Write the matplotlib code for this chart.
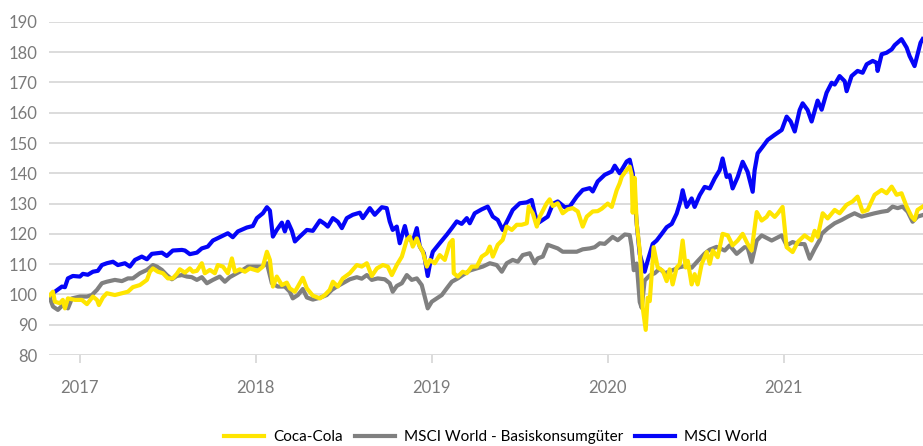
import matplotlib
matplotlib.use("Agg")
import matplotlib.pyplot as plt

# ---------- data (decimal years, indexed values) ----------
coca_t = [2016.830, 2016.847, 2016.858, 2016.886, 2016.903, 2016.915, 2016.932, 2016.972,
          2017.011, 2017.040, 2017.074, 2017.097, 2017.108, 2017.131, 2017.153, 2017.199,
          2017.239, 2017.273, 2017.301, 2017.341, 2017.381, 2017.398, 2017.415, 2017.443,
          2017.472, 2017.500, 2017.528, 2017.551, 2017.568, 2017.597, 2017.625, 2017.642,
          2017.665, 2017.693, 2017.710, 2017.739, 2017.767, 2017.784, 2017.813, 2017.841,
          2017.864, 2017.881, 2017.909, 2017.938, 2017.966, 2017.994, 2018.011, 2018.040,
          2018.063, 2018.080, 2018.097, 2018.119, 2018.148, 2018.176, 2018.193, 2018.222,
          2018.239, 2018.267, 2018.290, 2018.324, 2018.364, 2018.392, 2018.420, 2018.438,
          2018.466, 2018.494, 2018.534, 2018.574, 2018.602, 2018.631, 2018.659, 2018.688,
          2018.722, 2018.750, 2018.773, 2018.801, 2018.830, 2018.858, 2018.875, 2018.892,
          2018.915, 2018.932, 2018.949, 2018.972, 2018.989, 2019.017, 2019.045, 2019.074,
          2019.102, 2019.119, 2019.125, 2019.148, 2019.176, 2019.199, 2019.227, 2019.256,
          2019.284, 2019.313, 2019.330, 2019.347, 2019.375, 2019.403, 2019.426, 2019.455,
          2019.483, 2019.511, 2019.540, 2019.551, 2019.574, 2019.597, 2019.614, 2019.653,
          2019.670, 2019.688, 2019.716, 2019.744, 2019.773, 2019.801, 2019.830, 2019.858,
          2019.881, 2019.915, 2019.943, 2019.966, 2020.000, 2020.023, 2020.051, 2020.068,
          2020.080, 2020.108, 2020.125, 2020.136, 2020.142, 2020.153, 2020.165, 2020.182,
          2020.193, 2020.199, 2020.216, 2020.227, 2020.239, 2020.261, 2020.284, 2020.313,
          2020.335, 2020.352, 2020.369, 2020.392, 2020.409, 2020.426, 2020.443, 2020.455,
          2020.477, 2020.494, 2020.511, 2020.534, 2020.563, 2020.580, 2020.597, 2020.625,
          2020.653, 2020.682, 2020.710, 2020.739, 2020.767, 2020.795, 2020.818, 2020.847,
          2020.875, 2020.903, 2020.920, 2020.949, 2020.966, 2020.994, 2021.017, 2021.051,
          2021.080, 2021.119, 2021.159, 2021.176, 2021.193, 2021.222, 2021.250, 2021.290,
          2021.318, 2021.358, 2021.392, 2021.420, 2021.449, 2021.477, 2021.517, 2021.557,
          2021.585, 2021.614, 2021.642, 2021.670, 2021.699, 2021.727, 2021.744, 2021.761,
          2021.790]
coca_v = [99.8, 100.9, 97.6, 97.1, 98.2, 95.4, 98.7, 98.2,
          98.2, 96.8, 99.3, 98.2, 96.5, 99.0, 100.4, 99.8,
          100.4, 100.9, 102.4, 103.1, 104.8, 107.5, 108.6, 107.5,
          107.0, 105.3, 105.3, 106.8, 108.3, 107.2, 108.6, 107.5,
          107.8, 110.3, 107.0, 108.1, 107.0, 109.7, 109.2, 107.0,
          111.9, 107.5, 108.3, 107.5, 108.6, 108.1, 107.8, 109.2,
          114.1, 111.4, 102.6, 105.9, 103.1, 103.9, 102.0, 100.9,
          102.6, 105.5, 102.0, 99.6, 98.7, 99.8, 101.5, 104.2,
          102.6, 105.3, 107.0, 109.7, 109.2, 110.3, 106.1, 108.6,
          109.7, 109.2, 106.4, 109.7, 112.5, 118.0, 119.1, 115.8,
          118.5, 115.8, 114.1, 109.2, 111.4, 110.3, 113.0, 111.4,
          116.9, 118.0, 107.0, 105.9, 107.5, 107.0, 109.2, 109.2,
          112.5, 113.6, 115.8, 112.5, 116.4, 118.0, 122.4, 121.3,
          123.0, 123.0, 123.5, 129.0, 126.8, 122.4, 125.7, 130.1,
          131.4, 129.2, 130.1, 126.8, 128.1, 128.5, 127.4, 122.4,
          125.7, 127.4, 127.5, 128.3, 130.0, 128.9, 134.4, 136.7,
          138.9, 141.1, 142.2, 139.5, 127.0, 138.5, 123.3, 114.4,
          104.4, 95.6, 88.3, 98.9, 97.8, 115.6, 108.9, 107.8,
          104.4, 108.3, 103.3, 108.9, 110.0, 117.8, 108.9, 111.1,
          103.3, 106.7, 103.3, 110.0, 114.0, 110.1, 114.5, 112.3,
          120.0, 119.5, 116.2, 117.8, 120.0, 116.7, 114.5, 127.2,
          124.4, 125.6, 127.2, 125.6, 126.7, 128.9, 115.6, 114.0,
          117.3, 119.5, 117.8, 121.0, 119.0, 126.8, 125.1, 127.9,
          126.8, 129.6, 130.7, 132.3, 127.3, 127.9, 132.9, 134.5,
          133.4, 135.6, 132.9, 133.4, 129.0, 125.7, 124.6, 127.9,
          129.0]

staples_t = [2016.830, 2016.847, 2016.875, 2016.903, 2016.932, 2016.955, 2017.000, 2017.040,
             2017.068, 2017.097, 2017.125, 2017.153, 2017.199, 2017.239, 2017.273, 2017.301,
             2017.341, 2017.381, 2017.415, 2017.438, 2017.466, 2017.494, 2017.523, 2017.551,
             2017.580, 2017.608, 2017.636, 2017.665, 2017.693, 2017.722, 2017.756, 2017.795,
             2017.824, 2017.852, 2017.892, 2017.926, 2017.955, 2017.994, 2018.034, 2018.063,
             2018.091, 2018.125, 2018.165, 2018.193, 2018.210, 2018.239, 2018.267, 2018.290,
             2018.324, 2018.364, 2018.403, 2018.432, 2018.460, 2018.494, 2018.534, 2018.574,
             2018.602, 2018.631, 2018.659, 2018.693, 2018.733, 2018.761, 2018.778, 2018.801,
             2018.830, 2018.858, 2018.886, 2018.915, 2018.943, 2018.960, 2018.977, 2019.000,
             2019.028, 2019.057, 2019.085, 2019.114, 2019.148, 2019.176, 2019.216, 2019.256,
             2019.290, 2019.330, 2019.369, 2019.398, 2019.426, 2019.460, 2019.489, 2019.517,
             2019.557, 2019.585, 2019.602, 2019.631, 2019.659, 2019.688, 2019.716, 2019.744,
             2019.784, 2019.824, 2019.858, 2019.898, 2019.926, 2019.955, 2019.983, 2020.028,
             2020.057, 2020.097, 2020.125, 2020.136, 2020.148, 2020.165, 2020.182, 2020.193,
             2020.210, 2020.239, 2020.267, 2020.295, 2020.324, 2020.369, 2020.409, 2020.449,
             2020.477, 2020.511, 2020.551, 2020.580, 2020.619, 2020.665, 2020.693, 2020.733,
             2020.778, 2020.795, 2020.818, 2020.847, 2020.875, 2020.932, 2020.989, 2021.017,
             2021.051, 2021.080, 2021.119, 2021.148, 2021.176, 2021.205, 2021.216, 2021.250,
             2021.290, 2021.330, 2021.364, 2021.403, 2021.443, 2021.477, 2021.517, 2021.557,
             2021.591, 2021.619, 2021.648, 2021.676, 2021.705, 2021.733, 2021.761, 2021.790]
staples_v = [98.7, 96.0, 94.9, 96.5, 95.4, 98.7, 99.3, 99.3,
             99.8, 101.5, 103.7, 104.2, 104.8, 104.4, 105.3, 105.3,
             107.0, 108.1, 109.7, 109.2, 108.1, 106.4, 105.0, 106.1,
             106.4, 105.9, 105.7, 104.8, 105.7, 103.7, 104.8, 105.9,
             104.2, 105.7, 107.0, 108.1, 109.2, 109.2, 109.2, 110.3,
             103.7, 102.6, 102.6, 100.9, 98.7, 99.8, 101.8, 99.0,
             98.3, 98.9, 99.8, 101.5, 102.6, 103.7, 105.0, 105.7,
             105.2, 106.4, 104.8, 105.3, 105.0, 103.7, 100.9, 102.8,
             103.7, 106.4, 104.8, 105.3, 103.1, 99.3, 95.4, 97.6,
             98.7, 99.8, 102.0, 104.2, 105.3, 106.4, 107.9, 108.6,
             109.2, 110.3, 109.7, 107.5, 110.3, 111.4, 110.8, 113.0,
             113.6, 110.3, 111.9, 112.5, 116.4, 115.8, 115.2, 114.1,
             114.1, 114.1, 114.9, 115.2, 115.6, 116.9, 116.7, 119.0,
             117.9, 119.8, 119.6, 115.7, 108.0, 110.2, 97.5, 95.6,
             104.6, 106.3, 107.0, 108.5, 107.0, 108.0, 109.0, 109.5,
             108.8, 111.0, 113.5, 114.8, 115.7, 114.5, 116.2, 113.4,
             115.6, 115.5, 110.7, 117.8, 119.5, 117.8, 119.5, 116.2,
             117.3, 116.7, 116.6, 111.8, 115.0, 118.0, 120.0, 121.8,
             123.5, 124.6, 125.7, 126.8, 125.7, 126.2, 126.8, 127.3,
             127.6, 129.0, 128.5, 129.0, 127.3, 124.0, 125.7, 126.2]

world_t = [2016.830, 2016.858, 2016.898, 2016.915, 2016.932, 2016.960, 2017.000, 2017.017,
           2017.045, 2017.074, 2017.102, 2017.125, 2017.153, 2017.188, 2017.216, 2017.256,
           2017.284, 2017.313, 2017.352, 2017.381, 2017.409, 2017.438, 2017.466, 2017.494,
           2017.528, 2017.580, 2017.597, 2017.625, 2017.665, 2017.693, 2017.727, 2017.756,
           2017.795, 2017.841, 2017.869, 2017.898, 2017.949, 2017.983, 2018.006, 2018.040,
           2018.063, 2018.080, 2018.097, 2018.119, 2018.148, 2018.165, 2018.182, 2018.205,
           2018.222, 2018.250, 2018.290, 2018.324, 2018.364, 2018.392, 2018.409, 2018.438,
           2018.466, 2018.489, 2018.517, 2018.551, 2018.591, 2018.608, 2018.648, 2018.676,
           2018.716, 2018.744, 2018.761, 2018.778, 2018.801, 2018.818, 2018.847, 2018.864,
           2018.892, 2018.915, 2018.932, 2018.955, 2018.977, 2018.994, 2019.006, 2019.045,
           2019.085, 2019.114, 2019.142, 2019.170, 2019.199, 2019.216, 2019.244, 2019.284,
           2019.318, 2019.347, 2019.375, 2019.403, 2019.432, 2019.460, 2019.500, 2019.540,
           2019.568, 2019.585, 2019.602, 2019.631, 2019.659, 2019.688, 2019.716, 2019.756,
           2019.784, 2019.824, 2019.858, 2019.898, 2019.915, 2019.943, 2019.983, 2020.023,
           2020.040, 2020.068, 2020.108, 2020.125, 2020.142, 2020.165, 2020.182, 2020.210,
           2020.227, 2020.256, 2020.278, 2020.307, 2020.335, 2020.364, 2020.392, 2020.415,
           2020.426, 2020.449, 2020.477, 2020.494, 2020.523, 2020.551, 2020.580, 2020.608,
           2020.636, 2020.653, 2020.676, 2020.693, 2020.710, 2020.739, 2020.767, 2020.795,
           2020.824, 2020.835, 2020.852, 2020.881, 2020.909, 2020.949, 2020.989, 2021.017,
           2021.040, 2021.063, 2021.091, 2021.108, 2021.136, 2021.159, 2021.193, 2021.216,
           2021.244, 2021.273, 2021.290, 2021.318, 2021.347, 2021.358, 2021.386, 2021.420,
           2021.449, 2021.472, 2021.506, 2021.528, 2021.534, 2021.557, 2021.585, 2021.614,
           2021.631, 2021.670, 2021.699, 2021.716, 2021.744, 2021.761, 2021.778, 2021.790]
world_v = [99.5, 100.9, 102.6, 102.4, 105.3, 106.1, 105.9, 106.8,
           106.5, 107.5, 107.8, 109.7, 110.3, 110.8, 109.7, 110.3,
           109.2, 111.4, 112.5, 111.6, 113.4, 113.6, 113.8, 112.7,
           114.5, 114.7, 114.5, 113.3, 113.8, 115.2, 115.8, 117.8,
           118.9, 120.2, 118.9, 120.8, 122.1, 122.6, 125.2, 126.8,
           128.8, 127.7, 119.1, 121.3, 123.7, 120.8, 124.0, 121.0,
           117.5, 119.1, 121.3, 121.0, 124.4, 123.3, 122.4, 125.2,
           124.0, 121.9, 125.2, 126.3, 127.0, 125.2, 128.5, 126.3,
           128.8, 128.5, 124.1, 121.3, 122.4, 116.9, 122.6, 118.5,
           117.5, 121.9, 115.8, 113.6, 106.1, 111.4, 114.1, 116.9,
           119.7, 121.9, 124.1, 123.3, 125.2, 123.5, 126.8, 128.1,
           129.0, 125.7, 124.6, 121.3, 124.6, 127.9, 130.1, 130.4,
           131.2, 126.8, 123.5, 124.6, 125.7, 129.9, 130.7, 128.8,
           129.0, 132.3, 134.5, 135.1, 134.0, 137.3, 139.5, 140.6,
           142.5, 140.0, 143.9, 144.5, 140.1, 123.3, 113.3, 107.5,
           111.1, 116.7, 117.8, 120.0, 122.2, 123.3, 126.7, 131.1,
           134.4, 128.9, 131.7, 128.9, 132.8, 135.5, 135.0, 138.3,
           141.0, 144.9, 138.8, 139.4, 135.0, 138.8, 143.8, 140.5,
           133.9, 141.0, 146.6, 148.8, 151.0, 152.7, 154.3, 158.7,
           157.1, 153.8, 160.9, 163.1, 160.9, 157.1, 164.0, 161.0,
           166.6, 169.9, 169.3, 172.1, 170.4, 167.1, 172.1, 173.8,
           173.2, 176.0, 177.1, 176.5, 173.8, 179.3, 179.8, 180.9,
           182.3, 184.3, 181.5, 178.7, 175.4, 179.3, 183.1, 184.3]

years = [2017, 2018, 2019, 2020, 2021]
labels = ["Coca-Cola", "MSCI World - Basiskonsumgüter", "MSCI World"]

YELLOW = "#ffe500"
GREY = "#808080"
BLUE = "#0505f8"
TXT = "#7a7a7a"
GRID = "#d9d9d9"

plt.rcParams["font.family"] = ["Lato", "DejaVu Sans"]

fig = plt.figure(figsize=(9.23, 4.46), dpi=100)
ax = fig.add_axes([0.053, 0.204, 0.947, 0.747])

# blue below, yellow on top
l3, = ax.plot(world_t, world_v, color=BLUE, lw=3.0, solid_joinstyle="round", zorder=3)
l2, = ax.plot(staples_t, staples_v, color=GREY, lw=3.0, solid_joinstyle="round", zorder=4)
l1, = ax.plot(coca_t, coca_v, color=YELLOW, lw=3.0, solid_joinstyle="round", zorder=5)

ax.set_xlim(2016.824, 2021.792)
ax.set_ylim(80, 190)
ax.set_yticks(range(80, 191, 10))
ax.set_xticks(years)
ax.set_xticklabels([str(y) for y in years])
ax.grid(axis="y", color=GRID, lw=1.3)
ax.set_axisbelow(True)
for s in ax.spines.values():
    s.set_visible(False)
ax.tick_params(axis="y", length=0, pad=8, labelsize=12, labelcolor=TXT)
ax.tick_params(axis="x", length=6, width=1.3, color=GRID, pad=12,
               labelsize=12, labelcolor=TXT)

fig.legend([l1, l2, l3], labels, loc="center", bbox_to_anchor=(0.537, 0.02),
           ncol=3, frameon=False, fontsize=11, labelcolor="#000000",
           handlelength=2.6, handletextpad=0.6, columnspacing=0.8)

fig.savefig("out.png", dpi=100)
